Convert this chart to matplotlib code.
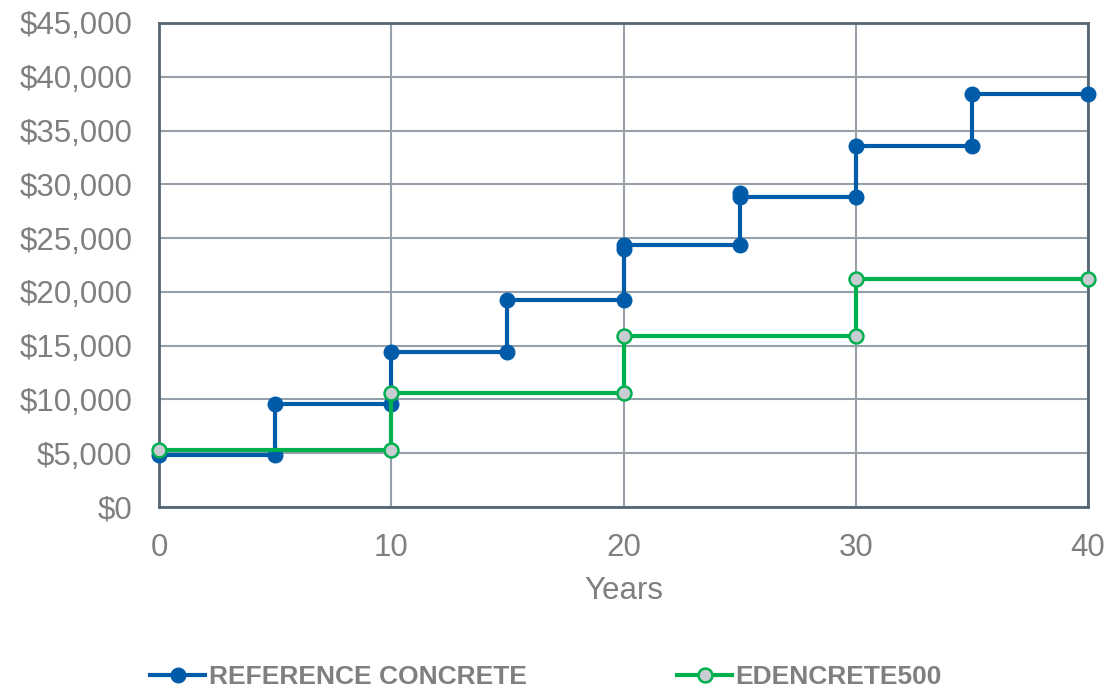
import matplotlib.pyplot as plt
from matplotlib.ticker import FuncFormatter

# step series, each vertical jump listed as two points at the same year
ref_years = [0, 5, 5, 10, 10, 15, 15, 20, 20, 20, 25, 25, 25, 30, 30, 35, 35, 40]
ref_cost = [4800, 4800, 9600, 9600, 14400, 14400, 19200, 19200, 24000, 24400,
            24400, 29200, 28800, 28800, 33600, 33600, 38400, 38400]

eden_years = [0, 10, 10, 20, 20, 30, 30, 40]
eden_cost = [5300, 5300, 10600, 10600, 15900, 15900, 21200, 21200]

x_ticks = [0, 10, 20, 30, 40]
y_ticks = [0, 5000, 10000, 15000, 20000, 25000, 30000, 35000, 40000, 45000]

blue = '#005ca8'
green = '#00b04f'
text_grey = '#7f7f7f'

plt.rcParams['font.family'] = ['Liberation Sans', 'DejaVu Sans']

fig = plt.figure(figsize=(11.08, 6.9), dpi=100)
ax = fig.add_axes([0.1435, 0.2652, 0.8385, 0.7015])

ax.plot(ref_years, ref_cost, color=blue, linewidth=3, marker='o',
        markersize=10.5, markerfacecolor=blue, markeredgecolor=blue,
        label='REFERENCE CONCRETE', zorder=3, clip_on=False)
ax.plot(eden_years, eden_cost, color=green, linewidth=3, marker='o',
        markersize=10, markerfacecolor='#c8cdd2', markeredgecolor=green,
        markeredgewidth=1.8, label='EDENCRETE500', zorder=4, clip_on=False)

ax.set_xlim(0, 40)
ax.set_ylim(0, 45000)
ax.set_xticks(x_ticks)
ax.set_yticks(y_ticks)
ax.yaxis.set_major_formatter(FuncFormatter(lambda v, p: '${:,.0f}'.format(v)))

ax.grid(True, color='#95a0ab', linewidth=1.5, zorder=0)
ax.set_axisbelow(True)
for s in ax.spines.values():
    s.set_color('#566574')
    s.set_linewidth(2)

ax.tick_params(length=0, labelsize=22.5, colors=text_grey, pad=19)
ax.set_xlabel('Years', fontsize=22.5, color=text_grey, labelpad=9)

leg = fig.legend(loc='center left', bbox_to_anchor=(150 / 1108, 13 / 690),
                 ncol=2, frameon=False, borderpad=0, borderaxespad=0,
                 handlelength=2.1, handletextpad=0.12, columnspacing=5.7,
                 numpoints=1, prop={'weight': 'bold', 'size': 19})
for t in leg.get_texts():
    t.set_color(text_grey)

fig.savefig('out.png', dpi=100)
